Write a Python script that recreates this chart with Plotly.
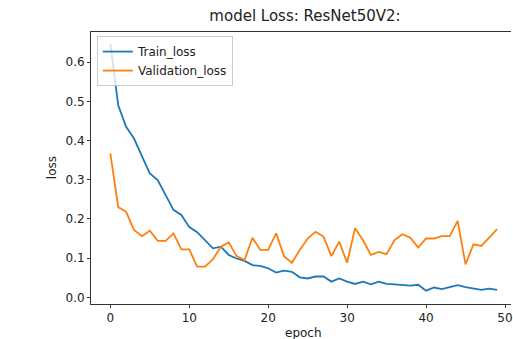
import plotly.graph_objects as go

epochs = list(range(50))
train_loss = [0.646, 0.49, 0.435, 0.405, 0.36, 0.316, 0.299, 0.26, 0.223, 0.21,
              0.179, 0.166, 0.145, 0.125, 0.129, 0.108, 0.099, 0.093, 0.082, 0.08,
              0.074, 0.063, 0.068, 0.065, 0.051, 0.048, 0.053, 0.053, 0.04, 0.048,
              0.04, 0.034, 0.04, 0.033, 0.04, 0.034, 0.033, 0.031, 0.03, 0.032,
              0.017, 0.025, 0.021, 0.026, 0.031, 0.026, 0.023, 0.019, 0.022, 0.019]
val_loss = [0.367, 0.23, 0.218, 0.172, 0.156, 0.17, 0.144, 0.144, 0.163, 0.122,
            0.122, 0.078, 0.078, 0.097, 0.129, 0.14, 0.105, 0.095, 0.152, 0.121,
            0.121, 0.163, 0.105, 0.088, 0.121, 0.15, 0.167, 0.155, 0.105, 0.142,
            0.088, 0.176, 0.146, 0.108, 0.116, 0.11, 0.146, 0.161, 0.152, 0.127,
            0.15, 0.15, 0.156, 0.156, 0.195, 0.084, 0.135, 0.131, 0.152, 0.174]
x_ticks = [0, 10, 20, 30, 40, 50]
y_ticks = [0.0, 0.1, 0.2, 0.3, 0.4, 0.5, 0.6]
y_tick_labels = ["0.0", "0.1", "0.2", "0.3", "0.4", "0.5", "0.6"]

FONT = "DejaVu Sans"
fig = go.Figure()
fig.add_trace(go.Scatter(x=epochs, y=train_loss, mode="lines", name="Train_loss",
                         line=dict(color="#1f77b4", width=1.8)))
fig.add_trace(go.Scatter(x=epochs, y=val_loss, mode="lines", name="Validation_loss",
                         line=dict(color="#ff7f0e", width=1.8)))

axis_common = dict(showgrid=False, zeroline=False, showline=True, linecolor="#333",
                   linewidth=1, ticks="outside", ticklen=3, tickcolor="#333",
                   tickfont=dict(family=FONT, size=12, color="#222"))
fig.update_xaxes(range=[-2.45, 50.76], tickvals=x_ticks, mirror=True,
                 ticklabeloverflow="allow", **axis_common)
fig.update_yaxes(range=[-0.0171, 0.6768], tickvals=y_ticks, ticktext=y_tick_labels,
                 **axis_common)

fig.update_layout(
    width=513, height=339,
    margin=dict(l=91, r=0, t=32, b=35),
    paper_bgcolor="white", plot_bgcolor="white",
    font=dict(family=FONT, size=12, color="#222"),
    title=dict(text="model Loss: ResNet50V2:", xref="container", x=305 / 513,
               xanchor="center", y=1 - 16 / 339, yanchor="middle",
               font=dict(family=FONT, size=15, color="#222")),
    legend=dict(x=0.014, y=0.985, xanchor="left", yanchor="top",
                bordercolor="#cccccc", borderwidth=1, bgcolor="rgba(255,255,255,0.8)",
                font=dict(family=FONT, size=12, color="#222"), itemwidth=30,
                tracegroupgap=0),
    showlegend=True,
    annotations=[
        dict(text="epoch", xref="paper", yref="paper", x=0.5065, y=-0.1066,
             xanchor="center", yanchor="middle", showarrow=False,
             font=dict(family=FONT, size=12, color="#222")),
        dict(text="loss", xref="paper", yref="paper", x=-0.0924, y=0.5,
             xanchor="center", yanchor="middle", showarrow=False, textangle=-90,
             font=dict(family=FONT, size=12, color="#222")),
    ],
)

fig.write_html("out.html", config={"displayModeBar": False},
               post_script="document.body.style.margin='0px';document.body.style.overflow='hidden';")
